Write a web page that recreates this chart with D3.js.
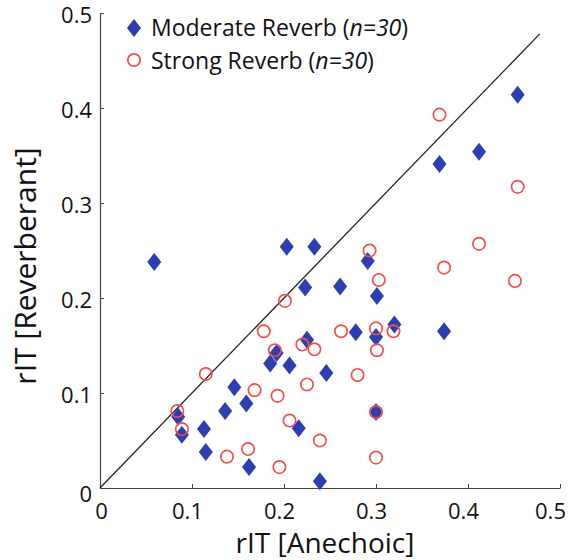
<!DOCTYPE html>
<html>
<head>
<meta charset="utf-8">
<script src="https://cdn.jsdelivr.net/npm/d3@7"></script>
<style>
  body { margin: 0; background: #fff; }
  svg { display: block; font-family: "Open Sans", "DejaVu Sans", sans-serif; }
</style>
</head>
<body>
<div id="chart"></div>
<script>
// Moderate reverb (diamonds): rIT anechoic vs reverberant
const moderateX = [0.059, 0.203, 0.233, 0.223, 0.225, 0.192, 0.185, 0.206, 0.246, 0.146,
                   0.159, 0.136, 0.085, 0.089, 0.113, 0.115, 0.162, 0.216, 0.239, 0.454,
                   0.412, 0.369, 0.291, 0.261, 0.301, 0.320, 0.278, 0.300, 0.374, 0.300];
const moderateY = [0.238, 0.254, 0.254, 0.211, 0.156, 0.142, 0.131, 0.129, 0.121, 0.106,
                   0.089, 0.081, 0.075, 0.056, 0.062, 0.038, 0.022, 0.063, 0.007, 0.414,
                   0.354, 0.341, 0.239, 0.212, 0.202, 0.172, 0.164, 0.159, 0.165, 0.080];

// Strong reverb (open circles)
const strongX = [0.201, 0.178, 0.190, 0.220, 0.233, 0.115, 0.168, 0.193, 0.225, 0.084,
                 0.089, 0.206, 0.239, 0.138, 0.161, 0.195, 0.369, 0.454, 0.412, 0.374,
                 0.451, 0.293, 0.303, 0.262, 0.300, 0.319, 0.301, 0.280, 0.300, 0.300];
const strongY = [0.197, 0.165, 0.145, 0.151, 0.146, 0.120, 0.103, 0.097, 0.109, 0.081,
                 0.062, 0.071, 0.050, 0.033, 0.041, 0.022, 0.393, 0.317, 0.257, 0.232,
                 0.218, 0.250, 0.219, 0.165, 0.168, 0.165, 0.145, 0.119, 0.080, 0.032];

const xTicks = [0, 0.1, 0.2, 0.3, 0.4, 0.5];
const yTicks = [0, 0.1, 0.2, 0.3, 0.4, 0.5];
const identityEnd = 0.478;

const width = 568, height = 560;
const margin = { top: 13, right: 8, bottom: 72, left: 100 };

const svg = d3.select("#chart").append("svg")
    .attr("width", width)
    .attr("height", height);

const x = d3.scaleLinear().domain([0, 0.5]).range([margin.left, width - margin.right]);
const y = d3.scaleLinear().domain([0, 0.5]).range([height - margin.bottom, margin.top]);

const fmt = d => d === 0 ? "0" : d3.format(".1f")(d);

// ejes con marcas hacia dentro
const xAxis = svg.append("g")
    .attr("transform", `translate(0,${y(0)})`)
    .call(d3.axisBottom(x).tickValues(xTicks).tickFormat(fmt).tickSizeInner(-4).tickSizeOuter(0).tickPadding(10));

const yAxis = svg.append("g")
    .attr("transform", `translate(${x(0)},0)`)
    .call(d3.axisLeft(y).tickValues(yTicks).tickFormat(fmt).tickSizeInner(-4).tickSizeOuter(0).tickPadding(8));

[xAxis, yAxis].forEach(g => {
    g.select(".domain").attr("stroke", "#444").attr("stroke-width", 1.2);
    g.selectAll(".tick line").attr("stroke", "#444");
    g.selectAll("text")
        .attr("fill", "#111")
        .style("font-size", "22px")
        .style("font-family", "'Open Sans', sans-serif");
});
// las etiquetas del eje X quedan un poco a la izquierda de la marca
xAxis.selectAll(".tick text")
    .attr("dy", "0.95em")
    .attr("dx", d => d === 0 ? 1 : (d === 0.5 ? -10 : -5));
yAxis.selectAll(".tick text").attr("dy", "0.45em");
// el "0" del eje Y va un poco más abajo
yAxis.selectAll(".tick").filter(d => d === 0).select("text").attr("dy", "0.6em");

// línea identidad
svg.append("line")
    .attr("x1", x(0)).attr("y1", y(0))
    .attr("x2", x(identityEnd)).attr("y2", y(identityEnd))
    .attr("stroke", "#222")
    .attr("stroke-width", 1.3);

// diamante algo más alto que ancho
const tallDiamond = {
    draw(ctx, size) {
        const h = Math.sqrt(size) / 2;
        const w = h * 0.78;
        ctx.moveTo(0, -h);
        ctx.lineTo(w, 0);
        ctx.lineTo(0, h);
        ctx.lineTo(-w, 0);
        ctx.closePath();
    }
};

const moderate = moderateX.map((v, i) => ({ x: v, y: moderateY[i] }));
const strong = strongX.map((v, i) => ({ x: v, y: strongY[i] }));

const blue = "#2c3eb0";
const red = "#f0504c";

svg.append("g").selectAll("path")
    .data(moderate)
    .join("path")
    .attr("transform", d => `translate(${x(d.x)},${y(d.y)})`)
    .attr("d", d3.symbol(tallDiamond, 324))
    .attr("fill", blue);

svg.append("g").selectAll("circle")
    .data(strong)
    .join("circle")
    .attr("cx", d => x(d.x))
    .attr("cy", d => y(d.y))
    .attr("r", 6.2)
    .attr("fill", "none")
    .attr("stroke", red)
    .attr("stroke-width", 1.7);

// leyenda
const legend = svg.append("g").style("font-size", "23px").attr("fill", "#111");
legend.append("path")
    .attr("transform", "translate(134,28)")
    .attr("d", d3.symbol(tallDiamond, 324))
    .attr("fill", blue);
legend.append("circle")
    .attr("cx", 134).attr("cy", 60).attr("r", 6.2)
    .attr("fill", "none").attr("stroke", red).attr("stroke-width", 1.7);

const labels = [
    { name: "Moderate Reverb (", y: 36 },
    { name: "Strong Reverb (", y: 69 }
];
labels.forEach(l => {
    const t = legend.append("text").attr("x", 151).attr("y", l.y);
    t.append("tspan").text(l.name);
    t.append("tspan").style("font-style", "italic").text("n=30");
    t.append("tspan").text(")");
});

// títulos de ejes
svg.append("text")
    .attr("x", 325)
    .attr("y", 553)
    .attr("text-anchor", "middle")
    .style("font-size", "28px")
    .attr("fill", "#111")
    .text("rIT [Anechoic]");

svg.append("text")
    .attr("transform", "translate(36,266) rotate(-90)")
    .attr("text-anchor", "middle")
    .style("font-size", "30px")
    .attr("fill", "#111")
    .text("rIT [Reverberant]");
</script>
</body>
</html>
